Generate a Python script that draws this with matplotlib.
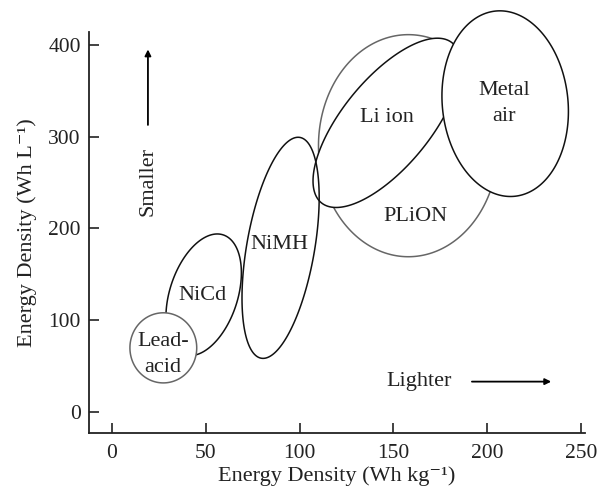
import numpy as np
import matplotlib
matplotlib.use("Agg")
import matplotlib.pyplot as plt

# Battery regions: centre and two conjugate semi-axes (Wh/kg, Wh/L)
names = ["PLiON", "Li ion", "Metal air", "NiMH", "NiCd", "Lead-acid"]
labels = ["PLiON", "Li ion", "Metal\nair", "NiMH", "NiCd", "Lead-\nacid"]
center_kg = [158.0, 146.5, 209.6, 89.9, 48.9, 27.4]
center_L = [290.1, 315.0, 335.9, 178.8, 127.6, 69.8]
semi_a = [(47.9, 0.0), (35.0, 86.9), (-5.2, 100.9), (10.3, 120.3), (10.4, 65.3), (17.8, 0.0)]
semi_b = [(0.0, 121.0), (-17.9, 30.9), (-33.3, -7.2), (-17.8, 6.4), (-17.2, 11.5), (0.0, 38.2)]
label_kg = [162.0, 146.8, 209.0, 89.4, 48.5, 27.1]
label_L = [213.0, 320.6, 336.0, 182.0, 127.0, 63.0]

xticks = [0, 50, 100, 150, 200, 250]
yticks = [0, 100, 200, 300, 400]

plt.rcParams["font.family"] = ["Liberation Serif", "DejaVu Serif"]

fig = plt.figure(figsize=(6.11, 4.96), dpi=100)
ax = fig.add_axes([0.1457, 0.127, 0.957 - 0.1457, 0.9355 - 0.127])

t = np.linspace(0, 2 * np.pi, 300)
edge = {"PLiON": "#666666", "Lead-acid": "#666666"}
for i, name in enumerate(names):
    ex = center_kg[i] + np.cos(t) * semi_a[i][0] + np.sin(t) * semi_b[i][0]
    ey = center_L[i] + np.cos(t) * semi_a[i][1] + np.sin(t) * semi_b[i][1]
    face = "none" if name == "NiMH" else "white"
    ax.fill(ex, ey, facecolor=face, edgecolor=edge.get(name, "#111111"),
            lw=1.1, clip_on=False, zorder=2 + i)
    ax.text(label_kg[i], label_L[i], labels[i], ha="center", va="center",
            fontsize=16, color="#222222", linespacing=1.5, zorder=20)

# Direction hints
ax.text(19.1, 250.8, "Smaller", rotation=90, ha="center", va="center",
        fontsize=16, color="#222222")
ax.annotate("", xy=(19.2, 398), xytext=(19.2, 309.7),
            arrowprops=dict(arrowstyle="-|>", color="black", lw=1.3, mutation_scale=9))
ax.text(163.8, 33, "Lighter", ha="center", va="center", fontsize=16, color="#222222")
ax.annotate("", xy=(235.6, 33), xytext=(190.4, 33),
            arrowprops=dict(arrowstyle="-|>", color="black", lw=1.3, mutation_scale=9))

ax.set_xlim(-12.2, 252)
ax.set_ylim(-23, 414)
ax.set_xticks(xticks)
ax.set_yticks(yticks)
ax.spines["top"].set_visible(False)
ax.spines["right"].set_visible(False)
for s in ("left", "bottom"):
    ax.spines[s].set_linewidth(1.3)
    ax.spines[s].set_color("#222222")
ax.tick_params(direction="in", length=7, width=1.2, labelsize=15.5, colors="#222222")
ax.tick_params(axis="x", pad=8)
ax.tick_params(axis="y", pad=6)
ax.set_xlabel("Energy Density (Wh kg\u207b\u00b9)", fontsize=16, color="#222222", labelpad=2)
ax.set_ylabel("Energy Density (Wh L\u207b\u00b9)", fontsize=16, color="#222222", labelpad=8)

fig.savefig("out.png", dpi=100)
